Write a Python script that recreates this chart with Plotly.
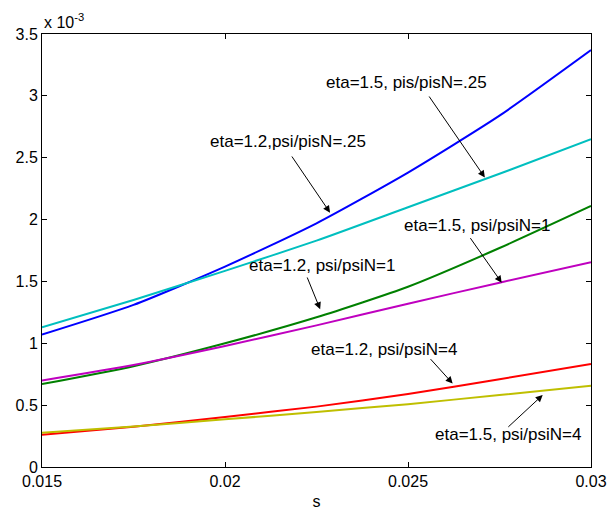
import plotly.graph_objects as go

s = [0.015, 0.0175, 0.02, 0.0225, 0.025, 0.0275, 0.03]
# values in units of 1e-3
eta12_psi025 = [1.07, 1.31, 1.62, 1.97, 2.38, 2.84, 3.37]   # blue
eta15_psi025 = [1.13, 1.35, 1.585, 1.83, 2.10, 2.37, 2.65]  # cyan
eta12_psi1 = [0.67, 0.815, 1.00, 1.21, 1.457, 1.77, 2.11]   # green
eta15_psi1 = [0.70, 0.825, 0.978, 1.145, 1.32, 1.49, 1.655]  # magenta
eta12_psi4 = [0.26, 0.325, 0.405, 0.488, 0.59, 0.71, 0.833]  # red
eta15_psi4 = [0.277, 0.328, 0.385, 0.445, 0.508, 0.582, 0.657]  # yellow

series = [
    (eta12_psi025, "#0000FF"),
    (eta15_psi025, "#00BFBF"),
    (eta12_psi1, "#008000"),
    (eta15_psi1, "#BF00BF"),
    (eta12_psi4, "#FF0000"),
    (eta15_psi4, "#BFBF00"),
]

labels = [
    "eta=1.5, pis/pisN=.25",
    "eta=1.2,psi/pisN=.25",
    "eta=1.5, psi/psiN=1",
    "eta=1.2, psi/psiN=1",
    "eta=1.2, psi/psiN=4",
    "eta=1.5, psi/psiN=4",
]
label_pos = [(0.02497, 3.104), (0.02172, 2.630), (0.02689, 1.951),
             (0.02264, 1.627), (0.02434, 0.951), (0.02774, 0.264)]
arrow_tail = [(0.02555, 3.007), (0.02180, 2.522), (0.026675, 1.862),
              (0.02223, 1.544), (0.02558, 0.884), (0.02770, 0.313)]
arrow_tip = [(0.0271, 2.34), (0.02287, 2.056), (0.02756, 1.49),
             (0.0226, 1.275), (0.02622, 0.675), (0.02868, 0.582)]

FONT = "Liberation Sans, Arial, sans-serif"

fig = go.Figure()
for ys, col in series:
    fig.add_trace(go.Scatter(x=s, y=ys, mode="lines",
                             line=dict(color=col, width=2, shape="spline", smoothing=0.6),
                             showlegend=False, hoverinfo="skip"))

ann = []
for t, (x, y) in zip(labels, label_pos):
    ann.append(dict(x=x, y=y, xref="x", yref="y", text=t, showarrow=False,
                    font=dict(family=FONT, size=17, color="black"),
                    xanchor="center", yanchor="middle"))
for (ax, ay), (x, y) in zip(arrow_tail, arrow_tip):
    ann.append(dict(x=x, y=y, xref="x", yref="y", ax=ax, ay=ay, axref="x", ayref="y",
                    text="", showarrow=True, arrowhead=2, arrowsize=1.4,
                    arrowwidth=1, arrowcolor="black", standoff=0, startstandoff=0))
ann.append(dict(x=0, y=1, xref="paper", yref="paper", xanchor="left", yanchor="bottom",
                yshift=1, text="x 10<sup>-3</sup>", showarrow=False,
                font=dict(family=FONT, size=16, color="black")))

fig.update_layout(
    width=607, height=514,
    margin=dict(l=42, r=16, t=34, b=47),
    paper_bgcolor="white", plot_bgcolor="white",
    font=dict(family=FONT, size=16, color="black"),
    annotations=ann,
    xaxis=dict(range=[0.015, 0.03], dtick=0.005, tick0=0.015, ticks="inside", ticklen=5,
               tickcolor="black", showline=True, linecolor="black", linewidth=1,
               mirror="ticks", showgrid=False, zeroline=False, automargin=False,
               title=dict(text="s", font=dict(size=16), standoff=6),
               tickfont=dict(size=16)),
    yaxis=dict(range=[0, 3.5], dtick=0.5, ticks="inside", ticklen=5,
               tickcolor="black", showline=True, linecolor="black", linewidth=1,
               mirror="ticks", showgrid=False, zeroline=False, automargin=False,
               tickfont=dict(size=16)),
)

fig.write_html("out.html")
